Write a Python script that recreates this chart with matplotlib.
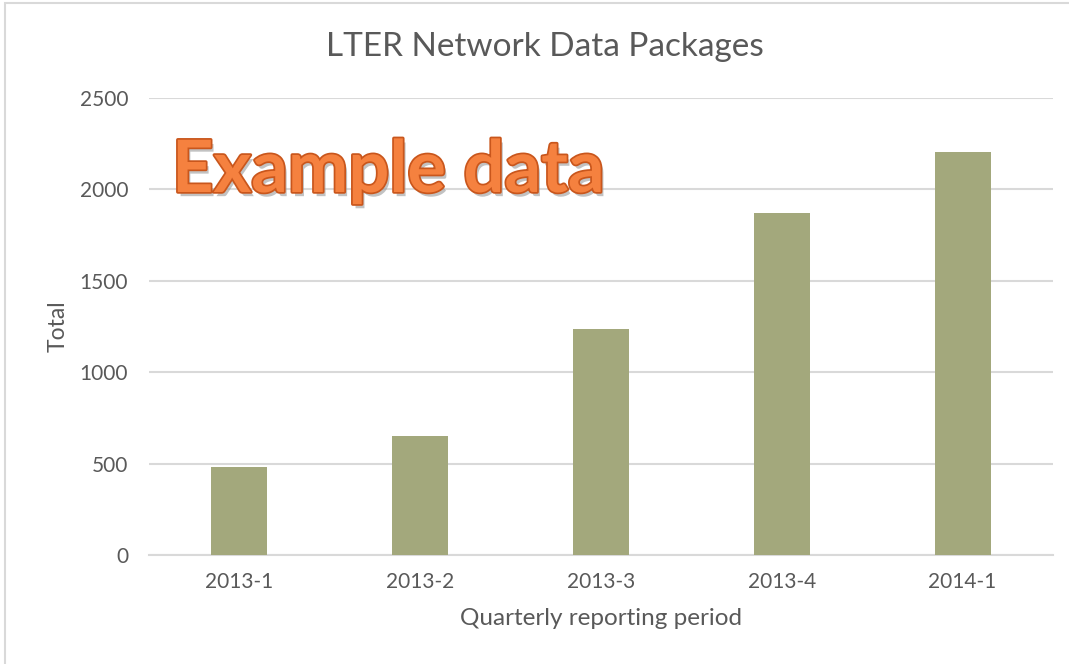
import matplotlib
matplotlib.use("Agg")
import matplotlib.pyplot as plt
import matplotlib.patheffects as pe
from matplotlib.patches import Rectangle

periods = ["2013-1", "2013-2", "2013-3", "2013-4", "2014-1"]
totals = [484, 651, 1235, 1873, 2203]
yticks = [0, 500, 1000, 1500, 2000, 2500]

title = "LTER Network Data Packages"
xlabel = "Quarterly reporting period"
ylabel = "Total"
watermark = "Example data"

TXT = "#595959"
plt.rcParams["font.family"] = ["Lato", "DejaVu Sans"]

W, H = 1069, 664
fig = plt.figure(figsize=(W / 100, H / 100), dpi=100)
fig.patch.set_facecolor("white")

# outer chart border (only top/left visible in the reference)
fig.add_artist(Rectangle((5 / W, -0.1), 1.2, 1 - 3.5 / H + 0.1, transform=fig.transFigure,
                         fill=False, edgecolor="#D9D9D9", linewidth=1.5))

ax = fig.add_axes([149 / W, 1 - 555 / H, (1053 - 149) / W, (555 - 98) / H])
x = list(range(len(periods)))
ax.bar(x, totals, width=0.31, color="#A3A87C", zorder=3)
ax.set_xlim(-0.5, len(periods) - 0.5)
ax.set_ylim(0, 2500)
ax.set_yticks(yticks)
ax.set_yticklabels([str(v) for v in yticks])
ax.set_xticks(x)
ax.set_xticklabels(periods)
ax.yaxis.grid(True, color="#D9D9D9", linewidth=1.5, zorder=0)
ax.set_axisbelow(True)
for s in ["top", "right", "left"]:
    ax.spines[s].set_visible(False)
ax.spines["bottom"].set_color("#D9D9D9")
ax.spines["bottom"].set_linewidth(1.5)
ax.tick_params(axis="both", length=0, labelsize=15, labelcolor=TXT)
ax.tick_params(axis="y", pad=15)
ax.tick_params(axis="x", pad=12)
ax.set_xlabel(xlabel, fontsize=17.5, color=TXT, labelpad=12)
ax.set_ylabel(ylabel, fontsize=16.5, color=TXT, labelpad=8)

fig.text(545 / W, 1 - 47 / H, title, ha="center", va="center", fontsize=24, color=TXT)

fig.text(172 / W, 1 - 192 / H, watermark, ha="left", va="baseline", fontsize=52,
         fontweight="bold", color="#F5813F",
         path_effects=[pe.SimplePatchShadow(offset=(2, -3), shadow_rgbFace="#9a9a9a", alpha=0.6),
                       pe.withStroke(linewidth=2.5, foreground="#C9561C")])

fig.savefig("out.png", dpi=100, facecolor="white")
